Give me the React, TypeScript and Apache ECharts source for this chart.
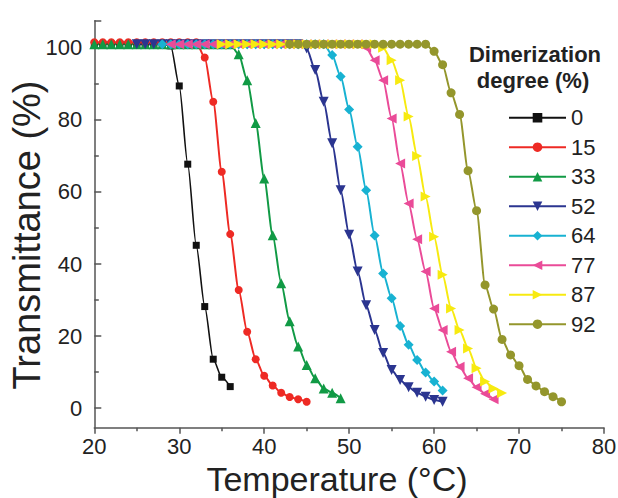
import React, { useEffect, useRef } from "react";
import * as echarts from "echarts";

// ---- data ----
const seriesNames = ["0", "15", "33", "52", "64", "77", "87", "92"];
const startTemps = [20, 20, 20, 25, 28, 29, 35, 43];

const values0 = [101, 101, 101, 101, 101, 101, 101, 101, 101, 100.5, 89.4, 67.7, 45.2, 28.2, 13.6, 8.6, 6.0];
const values15 = [101.5, 101.5, 101.5, 101.5, 101.5, 101.5, 101.5, 101.5, 101.5, 101.5, 101.5, 101.5, 101.5, 97.3, 85, 65.6, 48.3, 32.8, 21.2, 13.6, 9, 6.3, 4.3, 3.1, 2.5, 1.8];
const values33 = [101, 101, 101, 101, 101, 101, 101, 101, 101, 101, 101, 101, 101, 101, 101, 101, 101, 98.2, 91, 79.1, 63.7, 48, 34.7, 24.1, 17.1, 12, 8.3, 5.5, 4.3, 2.8];
const values52 = [101, 101, 101, 101, 101, 101, 101, 101, 101, 101, 101, 101, 101, 101, 101, 101, 101, 101, 101, 101, 99.8, 93.8, 85, 73.5, 60.5, 48.1, 37.9, 28.6, 21.7, 15.3, 10.6, 7.8, 5.8, 4.3, 3.2, 2.3, 1.8];
const values64 = [101, 101, 101, 101, 101, 101, 101, 101, 101, 101, 101, 101, 101, 101, 101, 101, 101, 101, 101, 101, 98, 92, 82.9, 72.5, 60.5, 47.9, 37.4, 30.5, 22.8, 17.6, 13.4, 9.9, 7.4, 4.9];
const values77 = [101, 101, 101, 101, 101, 101, 101, 101, 101, 101, 101, 101, 101, 101, 101, 101, 101, 101, 101, 101, 101, 101, 101, 100, 96.5, 91, 80.4, 67.9, 56.8, 46.9, 37.9, 27.7, 21.7, 15.7, 11.5, 8.3, 5.8, 4, 2.5];
const values87 = [101, 101, 101, 101, 101, 101, 101, 101, 101, 101, 101, 101, 101, 101, 101, 101, 101, 101, 101, 100, 96.5, 91, 80.9, 70, 58.7, 47.6, 37, 27.7, 21.7, 16.6, 11.1, 7.4, 5.5, 4.2];
const values92 = [101, 101, 101, 101, 101, 101, 101, 101, 101, 101, 101, 101, 101, 101, 101, 101, 101, 99, 95.3, 87.5, 81.5, 65.9, 54.8, 34.2, 27.5, 19.1, 14.8, 11.8, 8, 6.2, 4.6, 3.2, 1.8];

const allValues = [values0, values15, values33, values52, values64, values77, values87, values92];

const xTickLabels = [20, 30, 40, 50, 60, 70, 80];
const yTickLabels = [0, 20, 40, 60, 80, 100];
const yMinorTicks = [10, 30, 50, 70, 90];

const xTitle = "Temperature (°C)";
const yTitle = "Transmittance (%)";
const legendTitle1 = "Dimerization";
const legendTitle2 = "degree (%)";

// ---- styles ----
const colors = ["#111111", "#ee2a24", "#119a45", "#2b3590", "#18b2d2", "#ea4b98", "#f7ea10", "#94962c"];
const symbols = ["rect", "circle", "triangle", "triangle", "diamond", "triangle", "triangle", "circle"];
const rotations = [0, 0, 0, 180, 0, 90, -90, 0];
const sizes = [7, 8, 10, 10, 10, 10, 10, 9];

const FONT = "'Liberation Sans', Arial, Helvetica, sans-serif";
const AXIS = "#555555";
const TEXT = "#222222";

export default function App() {
  const ref = useRef<HTMLDivElement>(null);

  useEffect(() => {
    if (!ref.current) return;
    const chart = echarts.init(ref.current, null, { renderer: "svg" });

    const series = seriesNames.map((name, k) => ({
      name,
      type: "line",
      data: allValues[k].map((v, i) => [startTemps[k] + i, v]),
      symbol: symbols[k],
      symbolSize: sizes[k],
      symbolRotate: rotations[k],
      smooth: 0.25,
      smoothMonotone: "x",
      showAllSymbol: true,
      lineStyle: { color: colors[k], width: k === 0 ? 1.6 : 2 },
      itemStyle: { color: colors[k] },
      emphasis: { disabled: true },
    }));

    const textStyle = (fontSize: number, lineHeight: number, bold = false) => ({
      fontSize,
      lineHeight,
      fontWeight: bold ? "bold" : "normal",
      fontFamily: FONT,
      fill: TEXT,
      textAlign: "center",
      textVerticalAlign: "middle",
    });

    chart.setOption({
      animation: false,
      backgroundColor: "#ffffff",
      grid: {
        left: 94.3,
        right: 14,
        top: 20.7,
        bottom: 70.3,
        containLabel: false,
        outerBoundsMode: "none",
      },
      xAxis: {
        type: "value",
        min: xTickLabels[0],
        max: xTickLabels[xTickLabels.length - 1],
        interval: 10,
        axisLine: { show: true, onZero: false, lineStyle: { color: AXIS, width: 1.5 } },
        axisTick: { show: true, inside: false, length: 6, lineStyle: { color: AXIS, width: 1.5 } },
        minorTick: { show: true, splitNumber: 2, length: 3.5, lineStyle: { color: AXIS, width: 1.5 } },
        splitLine: { show: false },
        minorSplitLine: { show: false },
        axisLabel: { fontSize: 22, lineHeight: 22, color: TEXT, margin: 8, fontFamily: FONT },
      },
      yAxis: [
        {
          type: "value",
          min: -5.4,
          max: 107.5,
          position: "left",
          axisLine: { show: true, onZero: false, lineStyle: { color: AXIS, width: 1.5 } },
          axisTick: {
            show: true,
            inside: true,
            length: 7,
            customValues: [...yTickLabels, 107.5],
            lineStyle: { color: AXIS, width: 1.5 },
          },
          axisLabel: { customValues: yTickLabels, fontSize: 22, color: TEXT, margin: 12, fontFamily: FONT },
          splitLine: { show: false },
        },
        {
          type: "value",
          min: -5.4,
          max: 107.5,
          position: "left",
          axisLine: { show: false, onZero: false },
          axisTick: {
            show: true,
            inside: true,
            length: 4.5,
            customValues: yMinorTicks,
            lineStyle: { color: AXIS, width: 1.5 },
          },
          axisLabel: { show: false },
          splitLine: { show: false },
        },
      ],
      legend: {
        orient: "vertical",
        left: 508,
        top: 105.7,
        padding: 0,
        itemWidth: 57,
        itemHeight: 12,
        itemGap: 5.5,
        data: seriesNames,
        selectedMode: false,
        textStyle: { fontSize: 22, color: TEXT, fontFamily: FONT, lineHeight: 24 },
      },
      graphic: [
        { type: "text", x: 535, y: 54.4, style: { text: legendTitle1, ...textStyle(22, 24, true) } },
        { type: "text", x: 533, y: 80.7, style: { text: legendTitle2, ...textStyle(22, 24, true) } },
        { type: "text", x: 337, y: 479, style: { text: xTitle, ...textStyle(34, 32) } },
        { type: "text", x: 27, y: 235, rotation: Math.PI / 2, style: { text: yTitle, ...textStyle(38, 36) } },
      ],
      series,
    });

    return () => chart.dispose();
  }, []);

  return (
    <div
      ref={ref}
      style={{ position: "fixed", left: 0, top: 0, width: 618, height: 498, background: "#fff" }}
    />
  );
}
